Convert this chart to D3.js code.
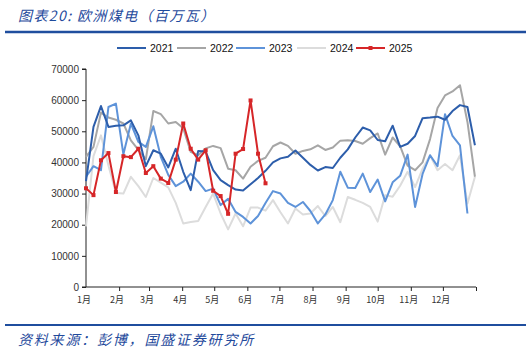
<!DOCTYPE html>
<html>
<head>
<meta charset="utf-8">
<script src="https://cdn.jsdelivr.net/npm/d3@7"></script>
<style>
  html, body { margin: 0; padding: 0; background: #fff; }
  svg { display: block; }
</style>
</head>
<body>
<div id="chart"></div>
<script>
// 欧洲煤电（百万瓦），周度数据，第1周起
var years = ["2021", "2022", "2023", "2024", "2025"];
var monthLabels = ["1月","2月","3月","4月","5月","6月","7月","8月","9月","10月","11月","12月"];
var yTicks = [0, 10000, 20000, 30000, 40000, 50000, 60000, 70000];

var s2021 = [34000, 51400, 58100, 51400, 51800, 51900, 53500, 48700, 38800, 43900,
             42800, 38400, 44400, 37000, 31100, 43700, 43500, 37500, 34300, 32700,
             31300, 31000, 33000, 35000, 37300, 40000, 41300, 41800, 43800, 41500,
             39200, 37400, 38500, 38200, 41500, 44200, 48000, 51200, 50300, 47200,
             46800, 51800, 45000, 46000, 48500, 54200, 54400, 54700, 53700, 56500,
             58400, 57800, 45500];
var s2022 = [41800, 45000, 56000, 54400, 53700, 52500, 47100, 44000, 41000, 56500,
             55500, 52500, 53000, 51000, 43400, 42300, 44500, 45300, 44600, 38000,
             37500, 34800, 38600, 40500, 41500, 45200, 46400, 45300, 42800, 43700,
             44200, 45500, 44000, 44800, 47000, 47100, 46900, 46000, 47800, 49300,
             42500, 48000, 45200, 39000, 37500, 40000, 47500, 57500, 61500, 62800,
             64800, 53000, 35400];
var s2023 = [35400, 38800, 37500, 57800, 58900, 42600, 52500, 46600, 45000, 51600,
             41800, 36000, 32400, 33800, 36400, 33800, 30800, 31600, 26300, 28300,
             24100, 22500, 20400, 22800, 27000, 30800, 30000, 27000, 25700, 27300,
             24400, 20400, 23300, 27900, 37000, 31900, 31800, 36400, 30500, 34500,
             27500, 33600, 35700, 42500, 25700, 36300, 42300, 38800, 55500, 48500,
             45500, 23600];
var s2024 = [19500, 42000, 48700, 39000, 30200, 30000, 35400, 32400, 28900, 35000,
             33500, 32000, 27000, 20400, 20900, 21200, 25700, 30000, 23600, 18500,
             23600, 19500, 25500, 25500, 24500, 27900, 24000, 20400, 25200, 23300,
             23600, 26000, 22800, 25700, 20800, 28900, 28000, 27000, 25700, 21000,
             29500, 29000, 32500, 37000, 32100, 38000, 42300, 37500, 39500, 37500,
             42300, 26800, 35400];
var s2025 = [31700, 29500, 40700, 43000, 30500, 42000, 41700, 44400, 36600, 38800,
             34800, 33400, 40900, 52500, 44400, 40900, 43900, 30900, 29200, 23500,
             42800, 44300, 59900, 42800, 33300];

var seriesValues = [s2021, s2022, s2023, s2024, s2025];
var colors = ["#2D5EAB", "#A6A6A6", "#5E93D9", "#DCDCDC", "#D62628"];

var W = 531, H = 354;
var svg = d3.select("#chart").append("svg").attr("width", W).attr("height", H);

//タイトル
svg.append("text")
    .attr("x", 18).attr("y", 21)
    .attr("font-family", "Noto Sans CJK SC")
    .attr("font-size", 14)
    .attr("font-style", "italic")
    .attr("letter-spacing", 1.4)
    .attr("fill", "#1F4A9C")
    .text("图表20:  欧洲煤电（百万瓦）");

svg.append("line").attr("x1", 5).attr("x2", 526).attr("y1", 32).attr("y2", 32)
    .attr("stroke", "#1F4E9E").attr("stroke-width", 2.5);

svg.append("line").attr("x1", 5).attr("x2", 526).attr("y1", 325).attr("y2", 325)
    .attr("stroke", "#1F4E9E").attr("stroke-width", 2);

svg.append("text")
    .attr("x", 18).attr("y", 345)
    .attr("font-family", "Noto Sans CJK SC")
    .attr("font-size", 14)
    .attr("font-style", "italic")
    .attr("letter-spacing", 1.8)
    .attr("fill", "#1F4A9C")
    .text("资料来源：彭博，国盛证券研究所");

//スケール
var x0 = new Date(2021, 0, 1), x1 = new Date(2022, 0, 1);
var xScale = d3.scaleTime().domain([x0, x1]).range([86, 476]);
var yScale = d3.scaleLinear().domain([0, 70000]).range([287, 69]);

function weekDate(i) { return new Date(2021, 0, 1 + 7 * i); }

//y軸
var yAxis = svg.append("g")
    .attr("transform", "translate(86,0)")
    .call(d3.axisLeft(yScale).tickValues(yTicks).tickSize(4).tickPadding(3).tickFormat(d3.format("d")));
yAxis.select(".domain").attr("stroke", "#222").attr("d", "M-4,69H0V287H-4").attr("stroke-width", 1);
yAxis.selectAll(".tick line").attr("stroke", "#222");
yAxis.selectAll("text")
    .attr("font-family", "Liberation Sans")
    .attr("font-size", 10)
    .attr("fill", "#333");

//x軸（月の境目に目盛り）
var monthTicks = d3.timeMonth.range(new Date(2021, 1, 1), new Date(2022, 0, 2));
var xAxis = svg.append("g")
    .attr("transform", "translate(0,287)")
    .call(d3.axisBottom(xScale).tickValues(monthTicks).tickSize(4).tickFormat(""));
xAxis.select(".domain").attr("stroke", "#222").attr("d", "M86,0H476");
xAxis.selectAll(".tick line").attr("stroke", "#222");

var monthStarts = d3.timeMonth.range(x0, x1);
svg.append("g").selectAll("text")
    .data(monthStarts)
    .enter()
    .append("text")
    .attr("x", function (d) { return xScale(d) - 2; })
    .attr("y", 303)
    .attr("text-anchor", "middle")
    .attr("font-family", "Noto Sans CJK SC")
    .attr("font-size", 9)
    .attr("fill", "#333")
    .text(function (d, i) { return monthLabels[i]; });

//折れ線
var line = d3.line()
    .x(function (d, i) { return xScale(weekDate(i)); })
    .y(function (d) { return yScale(d); });

var order = [3, 1, 2, 0, 4];
order.forEach(function (k) {
    svg.append("path")
        .datum(seriesValues[k])
        .attr("fill", "none")
        .attr("stroke", colors[k])
        .attr("stroke-width", 2)
        .attr("stroke-linejoin", "round")
        .attr("d", line);
});

//2025のマーカー
svg.append("g").selectAll("rect")
    .data(s2025)
    .enter()
    .append("rect")
    .attr("x", function (d, i) { return xScale(weekDate(i)) - 2; })
    .attr("y", function (d) { return yScale(d) - 2; })
    .attr("width", 4).attr("height", 4)
    .attr("fill", colors[4]);

//凡例
var legendX = [117, 177, 236, 297, 356];
var legend = svg.append("g");
years.forEach(function (yr, k) {
    var g = legend.append("g").attr("transform", "translate(" + legendX[k] + ",48)");
    g.append("line").attr("x1", 0).attr("x2", 29).attr("y1", 0).attr("y2", 0)
        .attr("stroke", colors[k]).attr("stroke-width", 2);
    if (k == 4) {
        g.append("rect").attr("x", 12.5).attr("y", -2).attr("width", 4).attr("height", 4).attr("fill", colors[k]);
    }
    g.append("text").attr("x", 33).attr("y", 4)
        .attr("font-family", "Liberation Sans")
        .attr("font-size", 10.5)
        .attr("fill", "#111")
        .text(yr);
});
</script>
</body>
</html>
